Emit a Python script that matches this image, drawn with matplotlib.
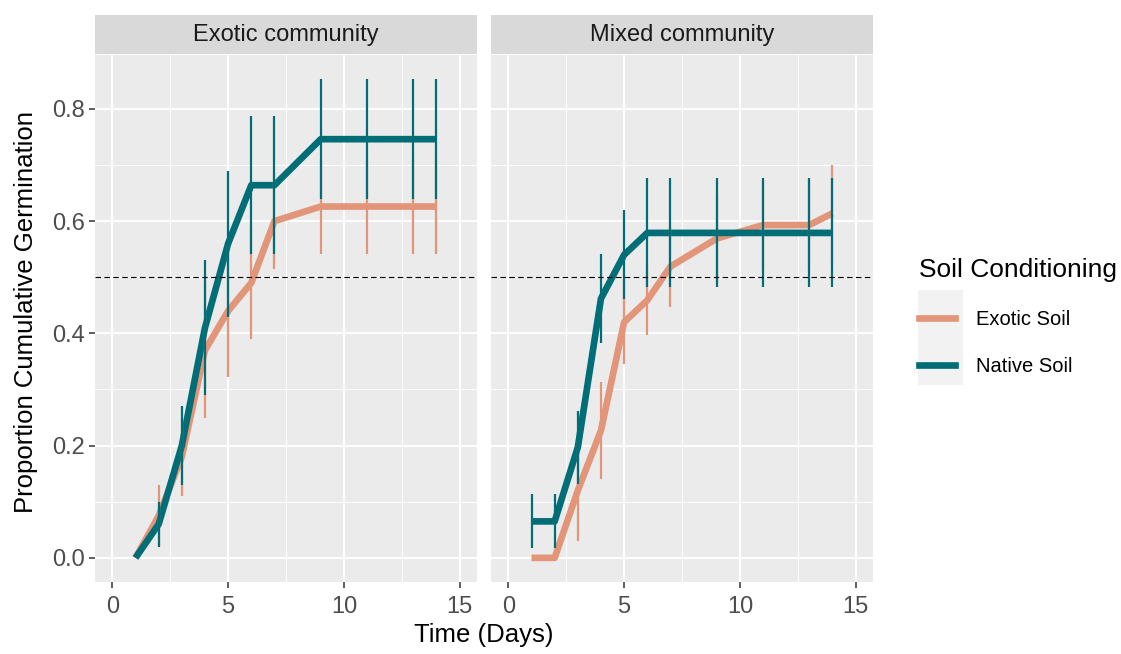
import matplotlib
matplotlib.use('Agg')
import matplotlib.pyplot as plt
from matplotlib.lines import Line2D
from matplotlib.patches import Rectangle

plt.rcParams['font.family'] = ['Liberation Sans', 'DejaVu Sans']

# data
days = [1, 2, 3, 4, 5, 6, 7, 9, 11, 13, 14]

exo_exotic = [0.0, 0.075, 0.18, 0.37, 0.44, 0.49, 0.60, 0.626, 0.626, 0.626, 0.626]
exo_exotic_se = [0.0, 0.055, 0.07, 0.12, 0.117, 0.10, 0.086, 0.084, 0.084, 0.084, 0.084]
exo_native = [0.0, 0.06, 0.2, 0.41, 0.56, 0.664, 0.664, 0.746, 0.746, 0.746, 0.746]
exo_native_se = [0.0, 0.04, 0.07, 0.12, 0.13, 0.123, 0.123, 0.107, 0.107, 0.107, 0.107]

mix_exotic = [0.0, 0.0, 0.12, 0.227, 0.42, 0.459, 0.519, 0.569, 0.593, 0.593, 0.614]
mix_exotic_se = [0.0, 0.0, 0.09, 0.087, 0.074, 0.062, 0.072, 0.08, 0.08, 0.08, 0.086]
mix_native = [0.065, 0.065, 0.197, 0.462, 0.54, 0.579, 0.579, 0.579, 0.579, 0.579, 0.579]
mix_native_se = [0.048, 0.048, 0.065, 0.08, 0.079, 0.097, 0.097, 0.097, 0.097, 0.097, 0.097]

facets = ["Exotic community", "Mixed community"]
soil_labels = ["Exotic Soil", "Native Soil"]
soil_colors = ["#E29578", "#006D77"]

W, H = 1121, 654


def box(l, t, r, b):
    return [l / W, 1 - b / H, (r - l) / W, (b - t) / H]


fig = plt.figure(figsize=(W / 100, H / 100), dpi=100)

series = [
    [(exo_exotic, exo_exotic_se), (exo_native, exo_native_se)],
    [(mix_exotic, mix_exotic_se), (mix_native, mix_native_se)],
]
lefts = [95, 491]

for i, name in enumerate(facets):
    l = lefts[i]
    ax = fig.add_axes(box(l, 55, l + 382, 582))
    ax.set_facecolor('#EBEBEB')
    ax.set_xlim(-0.75, 15.75)
    ax.set_ylim(-0.043, 0.896)
    ax.set_xticks([0, 5, 10, 15])
    ax.set_xticks([2.5, 7.5, 12.5], minor=True)
    ax.set_yticks([0.0, 0.2, 0.4, 0.6, 0.8])
    ax.set_yticks([0.1, 0.3, 0.5, 0.7], minor=True)
    ax.set_yticklabels(['0.0', '0.2', '0.4', '0.6', '0.8'])
    ax.grid(which='major', color='white', lw=1.4)
    ax.grid(which='minor', color='white', lw=0.7)
    ax.set_axisbelow(True)
    for s in ax.spines.values():
        s.set_visible(False)
    ax.tick_params(which='minor', length=0)
    ax.tick_params(which='major', length=4, width=1.1, color='#333333',
                   labelsize=17, labelcolor='#4D4D4D', pad=3)
    ax.tick_params(axis='x', pad=6)
    if i == 1:
        ax.tick_params(axis='y', left=False, labelleft=False)

    for (vals, se), c in zip(series[i], soil_colors):
        ax.plot(days, vals, color=c, lw=4.8, solid_joinstyle='round',
                solid_capstyle='butt', zorder=2)
    for (vals, se), c in zip(series[i], soil_colors):
        lo = [v - e for v, e in zip(vals, se)]
        hi = [v + e for v, e in zip(vals, se)]
        ax.vlines(days, lo, hi, color=c, lw=1.6, zorder=3)
    ax.axhline(0.5, color='black', lw=0.8, ls=(0, (5, 3)), zorder=4)

    sax = fig.add_axes(box(l, 15, l + 382, 54))
    sax.set_facecolor('#D9D9D9')
    sax.set_xticks([])
    sax.set_yticks([])
    for s in sax.spines.values():
        s.set_visible(False)
    sax.text(0.5, 0.5, name, ha='center', va='center', fontsize=17,
             color='#1A1A1A', transform=sax.transAxes)

fig.text(484 / W, 1 - 635 / H, "Time (Days)", ha='center', va='center', fontsize=18.5)
fig.text(26 / W, 1 - 312 / H, "Proportion Cumulative Germination", ha='center',
         va='center', rotation=90, fontsize=18.5)

# legend
fig.patches.append(Rectangle((918 / W, 1 - 385 / H), 45 / W, 95 / H,
                             transform=fig.transFigure, facecolor='#F2F2F2',
                             edgecolor='none', zorder=0))
handles = [Line2D([], [], color=c, lw=4.8) for c in soil_colors]
leg = fig.legend(handles, soil_labels, loc='upper left',
                 bbox_to_anchor=(903 / W, 1 - 242 / H), frameon=False,
                 title="Soil Conditioning", title_fontsize=19, fontsize=14.5,
                 handlelength=1.8, handletextpad=1.0, labelspacing=1.4,
                 alignment='left', borderpad=0.3)

fig.savefig('out.png', dpi=100)
